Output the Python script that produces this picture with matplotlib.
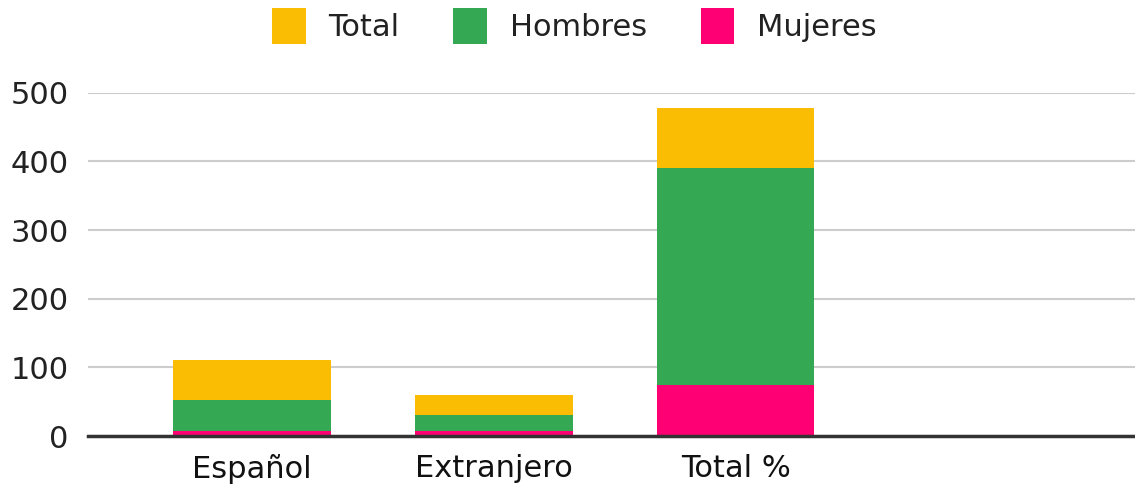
import numpy as np
import matplotlib.pyplot as plt

# categorias y valores (apilados: Mujeres abajo, Hombres, Total arriba)
categorias = ["Español", "Extranjero", "Total %"]
mujeres = [7, 7, 74]
hombres = [46, 24, 317]
total = [58, 29, 87]

col_total = "#fbbc04"
col_hombres = "#34a853"
col_mujeres = "#ff0074"

plt.rcParams['font.family'] = ['DejaVu Sans']

fig = plt.figure(figsize=(11.35, 4.92), dpi=100)
ax = fig.add_axes([0.0775, 0.1138, 0.9225, 0.6978])

x = np.arange(len(categorias))
w = 0.65
b1 = np.array(mujeres)
b2 = b1 + np.array(hombres)

ax.bar(x, mujeres, w, color=col_mujeres, label="Mujeres", zorder=3)
ax.bar(x, hombres, w, bottom=b1, color=col_hombres, label="Hombres", zorder=3)
ax.bar(x, total, w, bottom=b2, color=col_total, label="Total", zorder=3)

ax.set_xlim(-0.678, 3.65)
ax.set_ylim(0, 500)
ax.set_yticks([0, 100, 200, 300, 400, 500])
ax.set_xticks(x)
ax.set_xticklabels(categorias, fontsize=22, color="#111111")
ax.tick_params(axis='y', labelsize=22, labelcolor="#222222", length=0, pad=14)
ax.tick_params(axis='x', length=0, pad=13)

ax.grid(axis='y', color="#cccccc", linewidth=1.5, zorder=0)
for s in ['top', 'right', 'left']:
    ax.spines[s].set_visible(False)
ax.spines['bottom'].set_color("#333333")
ax.spines['bottom'].set_linewidth(2.5)
ax.spines['bottom'].set_zorder(4)

handles, labels = ax.get_legend_handles_labels()
order = [2, 1, 0]
fig.legend([handles[i] for i in order], [labels[i] for i in order],
           loc='center', bbox_to_anchor=(0.506, 0.947), ncol=3, frameon=False,
           fontsize=22, handlelength=1.11, handleheight=1.45, handletextpad=0.75,
           columnspacing=1.75, labelcolor="#222222")

fig.savefig("out.png", dpi=100)
